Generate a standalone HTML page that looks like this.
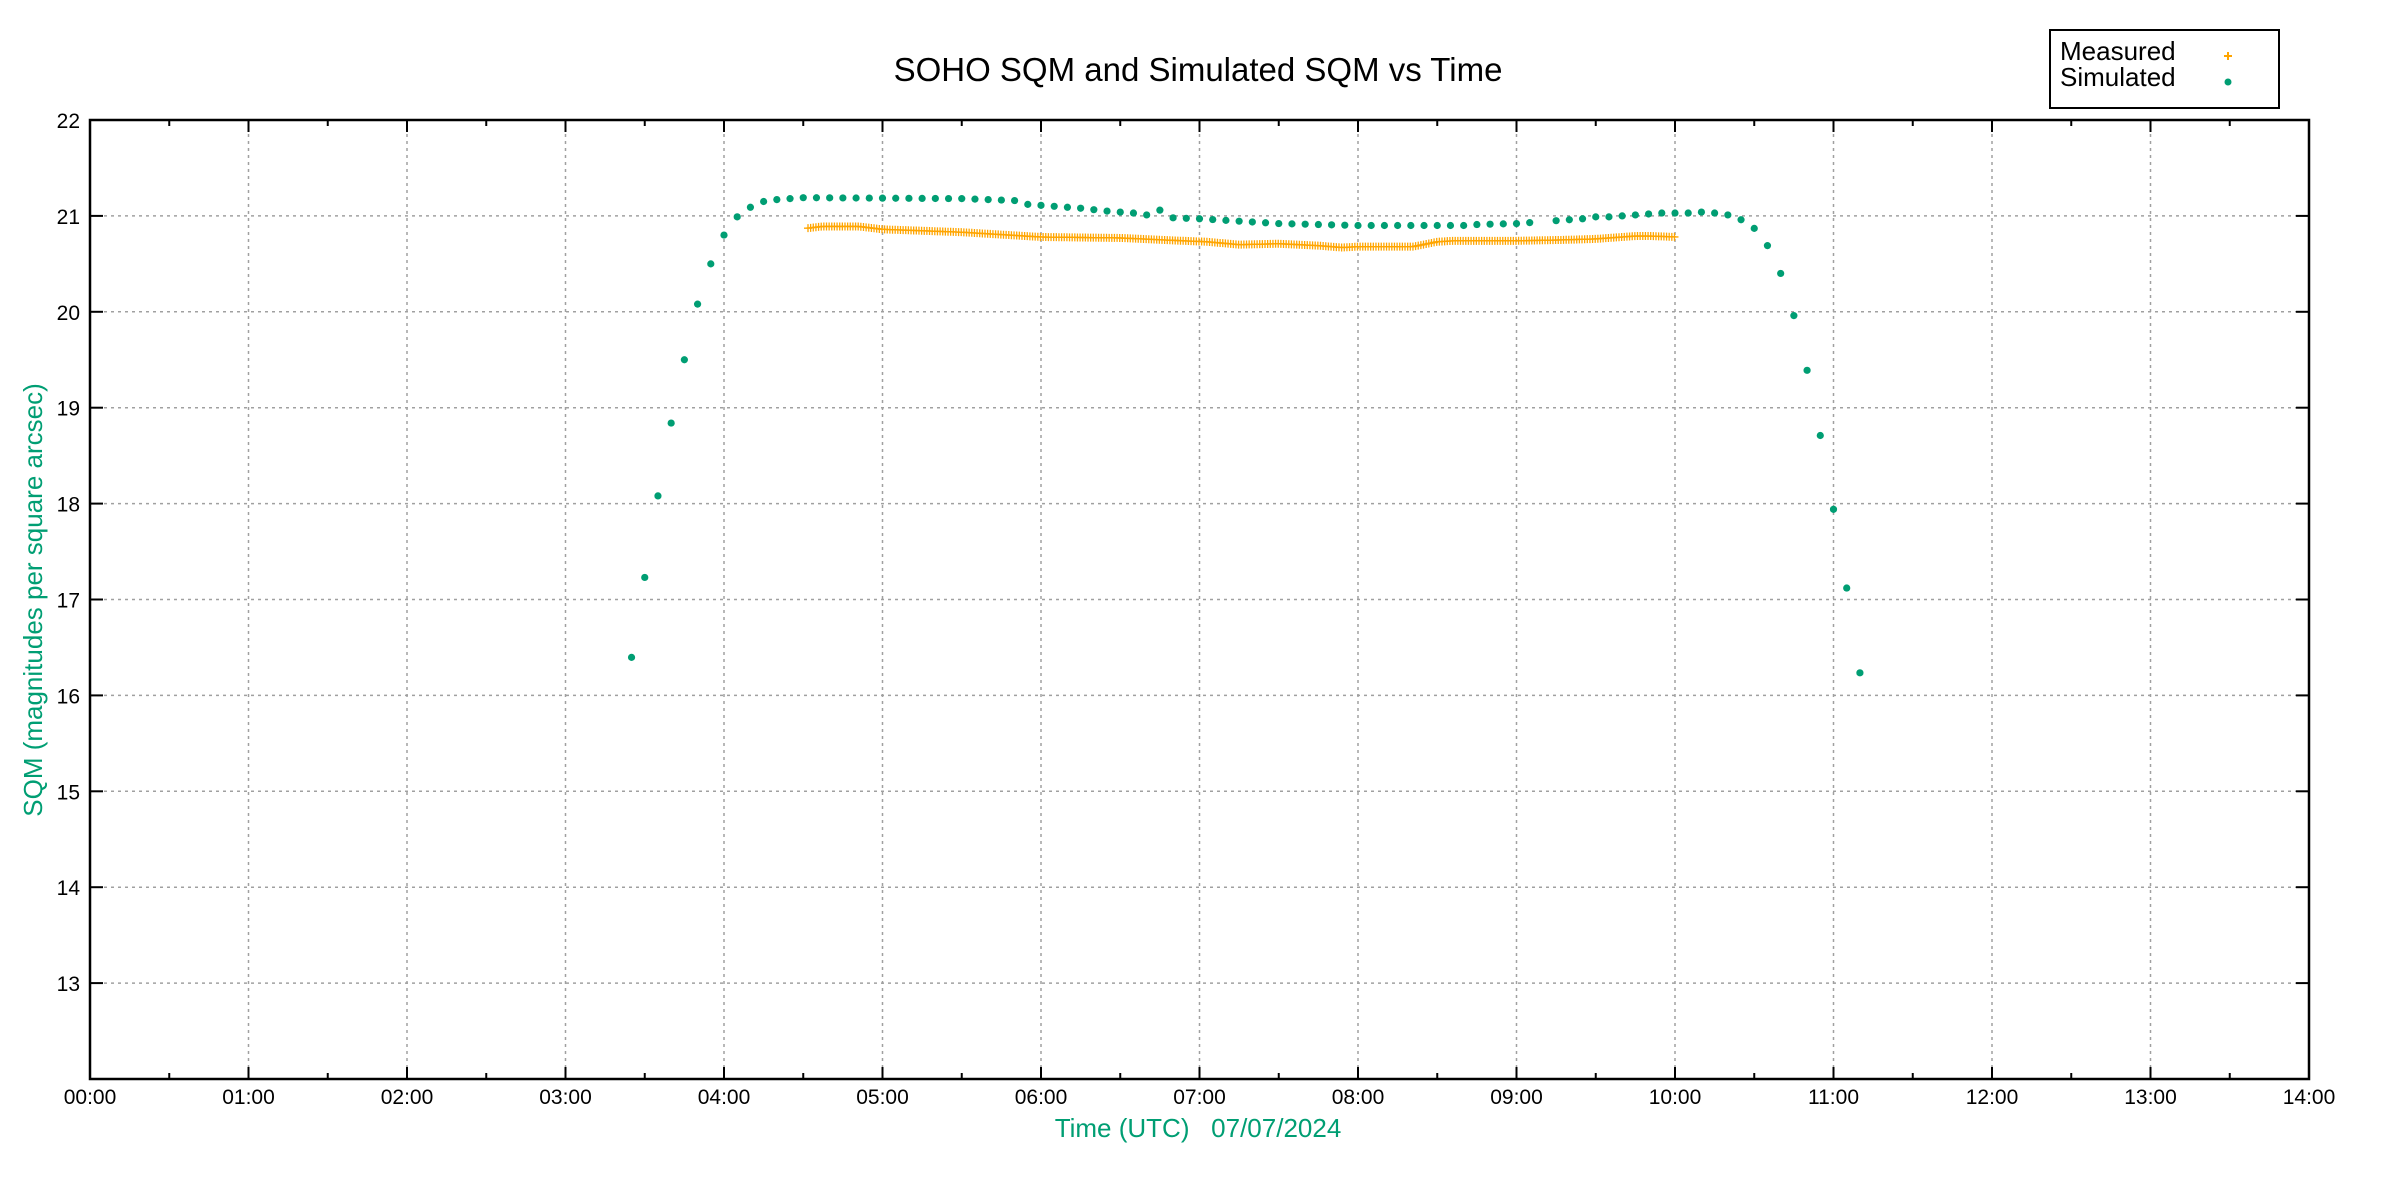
<!DOCTYPE html>
<html><head><meta charset="utf-8"><style>html,body{margin:0;padding:0;background:#fff}svg{display:block}</style></head>
<body>
<svg id="s" xmlns="http://www.w3.org/2000/svg" width="2400" height="1200" viewBox="0 0 2400 1200" font-family="Liberation Sans, sans-serif">
<rect width="2400" height="1200" fill="#fff"/>
<g id="grid" stroke="#a0a0a0" stroke-width="1.5" stroke-dasharray="3,4" fill="none"></g>
<g id="ticks" stroke="#000" stroke-width="2"></g>
<rect x="90" y="120" width="2219" height="959" fill="none" stroke="#000" stroke-width="2.5"/>
<g id="labels" font-size="21" fill="#000"></g>
<g id="meas" stroke="#ffa500" stroke-width="1.3"></g>
<g id="sim" fill="#009e73"></g>
<text x="1198" y="81" font-size="33" text-anchor="middle" fill="#000">SOHO SQM and Simulated SQM vs Time</text>
<text x="1198" y="1137" font-size="26" text-anchor="middle" fill="#009e73" xml:space="preserve">Time (UTC)   07/07/2024</text>
<text transform="translate(42,600) rotate(-90)" font-size="26" text-anchor="middle" fill="#009e73">SQM (magnitudes per square arcsec)</text>
<rect x="2050" y="30" width="229" height="78" fill="#fff" stroke="#000" stroke-width="2"/>
<text x="2060" y="60" font-size="26" fill="#000">Measured</text>
<text x="2060" y="86" font-size="26" fill="#000">Simulated</text>
<path d="M2224 56h8M2228 52v8" stroke="#ffa500" stroke-width="2"/>
<circle cx="2228" cy="82" r="3.5" fill="#009e73"/>
</svg>
<script>
var NS="http://www.w3.org/2000/svg";
function X(h){return 90+h*158.5;}function Y(v){return 120+(22-v)*95.9;}
function el(p,t,a,txt){var e=document.createElementNS(NS,t);for(var k in a)e.setAttribute(k,a[k]);if(txt!=null)e.textContent=txt;document.getElementById(p).appendChild(e);}
for(var h=1;h<14;h++)el('grid','line',{x1:X(h),x2:X(h),y1:120,y2:1079});
for(var v=13;v<22;v++)el('grid','line',{x1:90,x2:2309,y1:Y(v),y2:Y(v)});
for(var i=0;i<=28;i++){var h=i/2,L=i%2?6:12;el('ticks','line',{x1:X(h),x2:X(h),y1:1079,y2:1079-L});el('ticks','line',{x1:X(h),x2:X(h),y1:120,y2:120+L});}
for(var h=0;h<=14;h++)el('labels','text',{x:X(h),y:1104,'text-anchor':'middle'},(h<10?'0':'')+h+':00');
for(var v=13;v<=22;v++){el('ticks','line',{x1:90,x2:103,y1:Y(v),y2:Y(v)});el('ticks','line',{x1:2309,x2:2296,y1:Y(v),y2:Y(v)});el('labels','text',{x:80,y:Y(v)+8,'text-anchor':'end'},v);}
function interp(pts,t){for(var i=0;i<pts.length-1;i++){if(t>=pts[i][0]&&t<=pts[i+1][0]){var f=(t-pts[i][0])/(pts[i+1][0]-pts[i][0]);return pts[i][1]+f*(pts[i+1][1]-pts[i][1]);}}return pts[pts.length-1][1];}
var M=[[4.52,20.87],[4.62,20.89],[4.85,20.89],[5.0,20.86],[5.5,20.83],[6.0,20.78],[6.5,20.77],[6.9,20.74],[7.05,20.73],[7.25,20.70],[7.5,20.71],[7.75,20.69],[7.9,20.67],[8.0,20.68],[8.35,20.68],[8.5,20.73],[8.6,20.74],[9.0,20.74],[9.3,20.75],[9.5,20.76],[9.75,20.79],[9.85,20.79],[10.01,20.78]];
for(var t=4.53;t<=10.0;t+=1/60){var x=X(t),y=Y(interp(M,t));el('meas','path',{d:'M'+(x-4)+' '+y+'h8M'+x+' '+(y-4)+'v8'});}
var S=[[3.41,16.33],[3.5,17.23],[3.5833,18.08],[3.6667,18.84],[3.75,19.5],[3.8333,20.08],[3.9167,20.5],[4.0,20.8],[4.0833,20.99],[4.1667,21.09],[4.25,21.15],[4.3333,21.17],[4.4167,21.18],[4.5,21.19],[5.5,21.18],[5.8333,21.16],[5.9167,21.12],[6.0,21.11],[6.1667,21.09],[6.25,21.08],[6.4167,21.05],[6.5833,21.03],[6.6667,21.01],[6.75,21.06],[6.8333,20.98],[7.0,20.97],[7.5,20.92],[7.75,20.91],[8.0,20.90],[8.6667,20.90],[8.75,20.91],[9.0,20.92],[9.0833,20.93],[9.25,20.95],[9.3333,20.96],[9.4167,20.97],[9.5,20.99],[9.5833,20.99],[9.6667,21.0],[9.75,21.01],[9.8333,21.02],[9.9167,21.03],[10.0833,21.03],[10.1667,21.04],[10.25,21.03],[10.3333,21.01],[10.4167,20.96],[10.5,20.87],[10.5833,20.69],[10.6667,20.40],[10.75,19.96],[10.8333,19.39],[10.9167,18.71],[11.0,17.94],[11.0833,17.12],[11.17,16.2]];
for(var k=41;k<=134;k++){var t=k/12;if(k==110)continue;el('sim','circle',{cx:X(t),cy:Y(interp(S,t)),r:3.6});}
</script>
</body></html>
